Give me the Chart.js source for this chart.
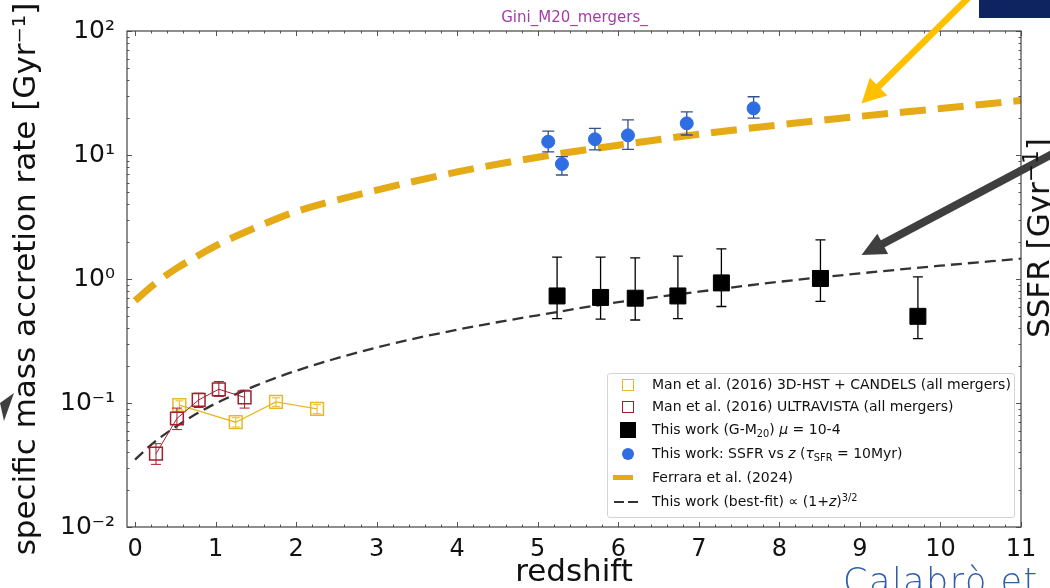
<!DOCTYPE html>
<html>
<head>
<meta charset="utf-8">
<script src="https://cdn.jsdelivr.net/npm/chart.js@4.4.0/dist/chart.umd.min.js"></script>
<style>
html,body{margin:0;padding:0;background:#fff;}
#wrap{position:relative;width:1050px;height:588px;overflow:hidden;font-family:'DejaVu Sans',sans-serif;background:#fff;}
#c{position:absolute;left:0;top:0;}
#title{position:absolute;left:0;width:1149px;top:9px;text-align:center;font-size:15px;line-height:16px;color:#a23ca8;}
#legend{position:absolute;left:607px;top:373px;width:406px;height:143px;border:1px solid #d4d4d4;border-radius:3px;background:rgba(255,255,255,0.88);font-size:14px;color:#111;}
.row{position:absolute;left:0;height:23px;line-height:23px;width:100%;white-space:nowrap;}
.txt{position:absolute;left:44px;top:0;}
.mk{position:absolute;box-sizing:border-box;}
.sub{font-size:0.7em;position:relative;top:0.3em;}
.sup{font-size:0.7em;position:relative;top:-0.5em;}
#ssfr{position:absolute;left:1040px;top:238px;transform:translate(-50%,-50%) rotate(-90deg);font-size:31px;line-height:31px;white-space:nowrap;color:#111;}
#cal{position:absolute;left:843px;top:564px;font-size:35px;line-height:35px;font-weight:200;letter-spacing:1.5px;color:#2f5ea9;white-space:nowrap;}
</style>
</head>
<body>
<div id="wrap">
<canvas id="c" width="1050" height="588"></canvas>
<div id="title">Gini_M20_mergers_</div>
<div id="legend"></div>
<div id="ssfr">SSFR [Gyr<span class="sup">−1</span>]</div>
<div id="cal">Calabrò et</div>
</div>
<script>
// ---------- data ----------
const xTickValues = [0,1,2,3,4,5,6,7,8,9,10,11];
const xTickLabels = ['0','1','2','3','4','5','6','7','8','9','10','11'];
const yTickValues = [0.01,0.1,1,10,100];
const yTickLabels = ['10⁻²','10⁻¹','10⁰','10¹','10²'];

// Man et al. (2016) 3D-HST + CANDELS
const manHstZ = [0.55,1.25,1.75,2.26];
const manHstY = [0.096,0.070,0.102,0.0895];
const manHstLo = [0.088,0.064,0.094,0.082];
const manHstHi = [0.104,0.076,0.110,0.097];

// Man et al. (2016) ULTRAVISTA
const manUvZ = [0.26,0.52,0.79,1.04,1.36];
const manUvY = [0.039,0.075,0.106,0.129,0.111];
const manUvLo = [0.032,0.061,0.092,0.113,0.091];
const manUvHi = [0.047,0.091,0.120,0.149,0.127];

// This work (G-M20)
const gmZ = [5.24,5.78,6.21,6.74,7.28,8.51,9.72];
const gmY = [0.73,0.71,0.70,0.73,0.93,1.01,0.50];
const gmLo = [0.48,0.475,0.467,0.48,0.60,0.66,0.33];
const gmHi = [1.50,1.50,1.48,1.53,1.75,2.07,1.04];

// This work: SSFR vs z
const ssfrZ = [5.13,5.30,5.71,6.12,6.85,7.68];
const ssfrY = [12.8,8.46,13.4,14.4,18.0,23.8];
const ssfrLo = [10.6,6.9,11.0,11.1,14.5,19.8];
const ssfrHi = [15.6,9.7,16.4,19.2,22.3,29.5];

// Ferrara et al. (2024)
const ferZ = [0,0.25,0.5,0.75,1,1.5,2,3,4,5,6,7,8,9,10,11];
const ferY = [0.67,0.92,1.2,1.5,1.85,2.6,3.5,5.2,7.3,9.6,12.0,14.7,17.5,20.5,23.7,27.5];

// This work best-fit
const fitZ = [0,0.25,0.5,0.75,1,1.5,2,3,4,5,6,7,8,9,10,11];
const fitY = [0.035,0.049,0.064,0.081,0.099,0.138,0.182,0.28,0.39,0.51,0.65,0.79,0.95,1.11,1.28,1.46];

const seriesLabels = [
  'Man et al. (2016) 3D-HST + CANDELS (all mergers)',
  'Man et al. (2016) ULTRAVISTA (all mergers)',
  'This work (G-M<span class="sub">20</span>) <i>μ</i> = 10-4',
  'This work: SSFR vs <i>z</i> (<i>τ</i><span class="sub">SFR</span> = 10Myr)',
  'Ferrara et al. (2024)',
  'This work (best-fit) ∝ (1+<i>z</i>)<span class="sup">3/2</span>'
];

// ---------- colors ----------
const C_HST = '#e9b826', C_UV = '#a51d2d', C_GM = '#000000', C_SSFR = '#2f6de3',
      C_SSFR_ERR = '#34508c', C_FER = '#e5ab17', C_FIT = '#333333';

const pts = (xs, ys) => xs.map((x,i)=>({x:x, y:ys[i]}));

// ---------- legend (HTML) ----------
(function(){
  const lg = document.getElementById('legend');
  const centers = [11,33,56,80,104,128];
  const markers = [
    `<span class="mk" style="left:14px;top:6px;width:12px;height:12px;border:1.5px solid ${C_HST};"></span>`,
    `<span class="mk" style="left:14px;top:6px;width:12px;height:12px;border:1.5px solid ${C_UV};"></span>`,
    `<span class="mk" style="left:12px;top:4px;width:16px;height:16px;background:${C_GM};"></span>`,
    `<span class="mk" style="left:14px;top:6px;width:12px;height:12px;border-radius:50%;background:${C_SSFR};"></span>`,
    `<span class="mk" style="left:5px;top:9px;width:20px;height:5px;background:${C_FER};"></span>`,
    `<span class="mk" style="left:6px;top:11px;width:10px;height:2px;background:${C_FIT};"></span><span class="mk" style="left:20px;top:11px;width:10px;height:2px;background:${C_FIT};"></span>`
  ];
  seriesLabels.forEach((lab,i)=>{
    const r = document.createElement('div');
    r.className='row';
    r.style.top = (centers[i]-12)+'px';
    r.innerHTML = markers[i] + `<span class="txt">${lab}</span>`;
    lg.appendChild(r);
  });
})();

// ---------- plugins ----------
const errorBars = {
  id:'errorBars',
  beforeDatasetDraw(chart, args){
    const ds = chart.data.datasets[args.index];
    if (!ds.errLo) return;
    const {ctx, scales:{x,y}} = chart;
    ctx.save();
    ctx.strokeStyle = ds.errColor; ctx.lineWidth = ds.errWidth;
    ctx.beginPath();
    ds.data.forEach((p,i)=>{
      const px = x.getPixelForValue(p.x);
      const yl = y.getPixelForValue(ds.errLo[i]);
      const yh = y.getPixelForValue(ds.errHi[i]);
      const c = ds.capHalf;
      ctx.moveTo(px, yl); ctx.lineTo(px, yh);
      ctx.moveTo(px-c, yl); ctx.lineTo(px+c, yl);
      ctx.moveTo(px-c, yh); ctx.lineTo(px+c, yh);
    });
    ctx.stroke();
    ctx.restore();
  }
};

const frameTicks = {
  id:'frameTicks',
  afterDatasetsDraw(chart){
    const {ctx, chartArea:a, scales:{x,y}} = chart;
    ctx.save();
    ctx.strokeStyle = '#555'; ctx.lineWidth = 1;
    ctx.beginPath();
    for (let i=0;i<=55;i++){
      const v = i/5;
      const px = Math.round(x.getPixelForValue(v))+0.5;
      const L = (i%5===0)?5:2.5;
      ctx.moveTo(px,a.bottom); ctx.lineTo(px,a.bottom-L);
      ctx.moveTo(px,a.top); ctx.lineTo(px,a.top+L);
    }
    for (let d=-2; d<=2; d++){
      for (let k=1;k<=9;k++){
        if (d===2 && k>1) break;
        const v = k*Math.pow(10,d);
        const py = Math.round(y.getPixelForValue(v))+0.5;
        const L = (k===1)?5:2.5;
        ctx.moveTo(a.left,py); ctx.lineTo(a.left+L,py);
        ctx.moveTo(a.right,py); ctx.lineTo(a.right-L,py);
      }
    }
    ctx.stroke();
    ctx.strokeStyle = '#444'; ctx.lineWidth = 1.2;
    ctx.strokeRect(a.left, a.top, a.right-a.left, a.bottom-a.top);
    ctx.restore();
  }
};

function drawArrow(ctx, tx, ty, dx, dy, len, lw, headLen, headW, color){
  const n = Math.hypot(dx,dy); dx/=n; dy/=n;
  const px = -dy, py = dx;
  ctx.save();
  ctx.strokeStyle = color; ctx.fillStyle = color; ctx.lineWidth = lw; ctx.lineCap='butt';
  ctx.beginPath();
  ctx.moveTo(tx+dx*(headLen-2), ty+dy*(headLen-2));
  ctx.lineTo(tx+dx*len, ty+dy*len);
  ctx.stroke();
  ctx.beginPath();
  ctx.moveTo(tx,ty);
  ctx.lineTo(tx+dx*headLen+px*headW/2, ty+dy*headLen+py*headW/2);
  ctx.lineTo(tx+dx*headLen-px*headW/2, ty+dy*headLen-py*headW/2);
  ctx.closePath(); ctx.fill();
  ctx.restore();
}

const decorations = {
  id:'decorations',
  afterDraw(chart){
    const {ctx, scales:{x,y}} = chart;
    ctx.save();
    ctx.fillStyle = '#0d2461';
    ctx.fillRect(979,0,71,18);
    ctx.fillStyle = '#3f3f3f';
    ctx.beginPath(); ctx.moveTo(14,393); ctx.lineTo(0,403); ctx.lineTo(4,421); ctx.closePath(); ctx.fill();
    ctx.restore();
    drawArrow(ctx, x.getPixelForValue(9.02), y.getPixelForValue(26), 104, -103, 200, 6.5, 24, 25, '#ffc000');
    drawArrow(ctx, x.getPixelForValue(9.02), y.getPixelForValue(1.56), 189, -100, 260, 8, 24, 23, '#3f3f3f');
  }
};

// ---------- chart ----------
const FONT = "'DejaVu Sans', sans-serif";
new Chart(document.getElementById('c'), {
  type:'scatter',
  data:{
    datasets:[
      { label:'SSFR', data:pts(ssfrZ,ssfrY), errLo:ssfrLo, errHi:ssfrHi, errColor:C_SSFR_ERR, errWidth:1.3, capHalf:6,
        pointStyle:'circle', pointRadius:6.5, backgroundColor:C_SSFR, borderColor:C_SSFR, borderWidth:1, showLine:false },
      { label:'GM20', data:pts(gmZ,gmY), errLo:gmLo, errHi:gmHi, errColor:'#000', errWidth:1.3, capHalf:5,
        pointStyle:'rect', pointRadius:11.3, backgroundColor:C_GM, borderColor:C_GM, borderWidth:1, showLine:false },
      { label:'ManUV', data:pts(manUvZ,manUvY), errLo:manUvLo, errHi:manUvHi, errColor:C_UV, errWidth:1, capHalf:5,
        pointStyle:'rect', pointRadius:9, backgroundColor:'rgba(0,0,0,0)', borderColor:C_UV, pointBorderWidth:1.5, borderWidth:1, showLine:true, tension:0 },
      { label:'ManHST', data:pts(manHstZ,manHstY), errLo:manHstLo, errHi:manHstHi, errColor:C_HST, errWidth:1, capHalf:4,
        pointStyle:'rect', pointRadius:9, backgroundColor:'rgba(0,0,0,0)', borderColor:C_HST, pointBorderWidth:1.5, borderWidth:1.3, showLine:true, tension:0 },
      { label:'fit', data:pts(fitZ,fitY), showLine:true, pointRadius:0, borderColor:C_FIT, borderWidth:2.3, borderDash:[11,6], cubicInterpolationMode:'monotone' },
      { label:'Ferrara', data:pts(ferZ,ferY), showLine:true, pointRadius:0, borderColor:C_FER, borderWidth:7, borderDash:[26,12], cubicInterpolationMode:'monotone' }
    ]
  },
  options:{
    responsive:false, animation:false, devicePixelRatio:1,
    layout:{padding:{top:31,right:29,left:0,bottom:0}},
    plugins:{legend:{display:false}, tooltip:{enabled:false}, title:{display:false}},
    scales:{
      x:{
        type:'linear', min:-0.1, max:11,
        afterBuildTicks:s=>{ s.ticks = xTickValues.map(v=>({value:v})); },
        afterFit:s=>{ s.height = 61; },
        grid:{display:false}, border:{display:false},
        ticks:{font:{family:FONT,size:24}, color:'#111', padding:0, maxRotation:0, autoSkip:false,
               callback:(v,i)=>xTickLabels[i]},
        title:{display:true, text:'redshift', font:{family:FONT,size:31,lineHeight:1}, color:'#111', padding:{top:0,bottom:0}}
      },
      y:{
        type:'logarithmic', min:0.01, max:100,
        afterBuildTicks:s=>{ s.ticks = yTickValues.map(v=>({value:v})); },
        afterFit:s=>{ s.width = 127; },
        grid:{display:false}, border:{display:false},
        ticks:{font:{family:FONT,size:25}, color:'#111', padding:4, autoSkip:false,
               callback:(v,i)=>yTickLabels[i]},
        title:{display:true, text:'specific mass accretion rate [Gyr⁻¹]', font:{family:FONT,size:31,lineHeight:1}, color:'#111', padding:{top:11,bottom:0}}
      }
    }
  },
  plugins:[errorBars, frameTicks, decorations]
});
</script>
</body>
</html>
